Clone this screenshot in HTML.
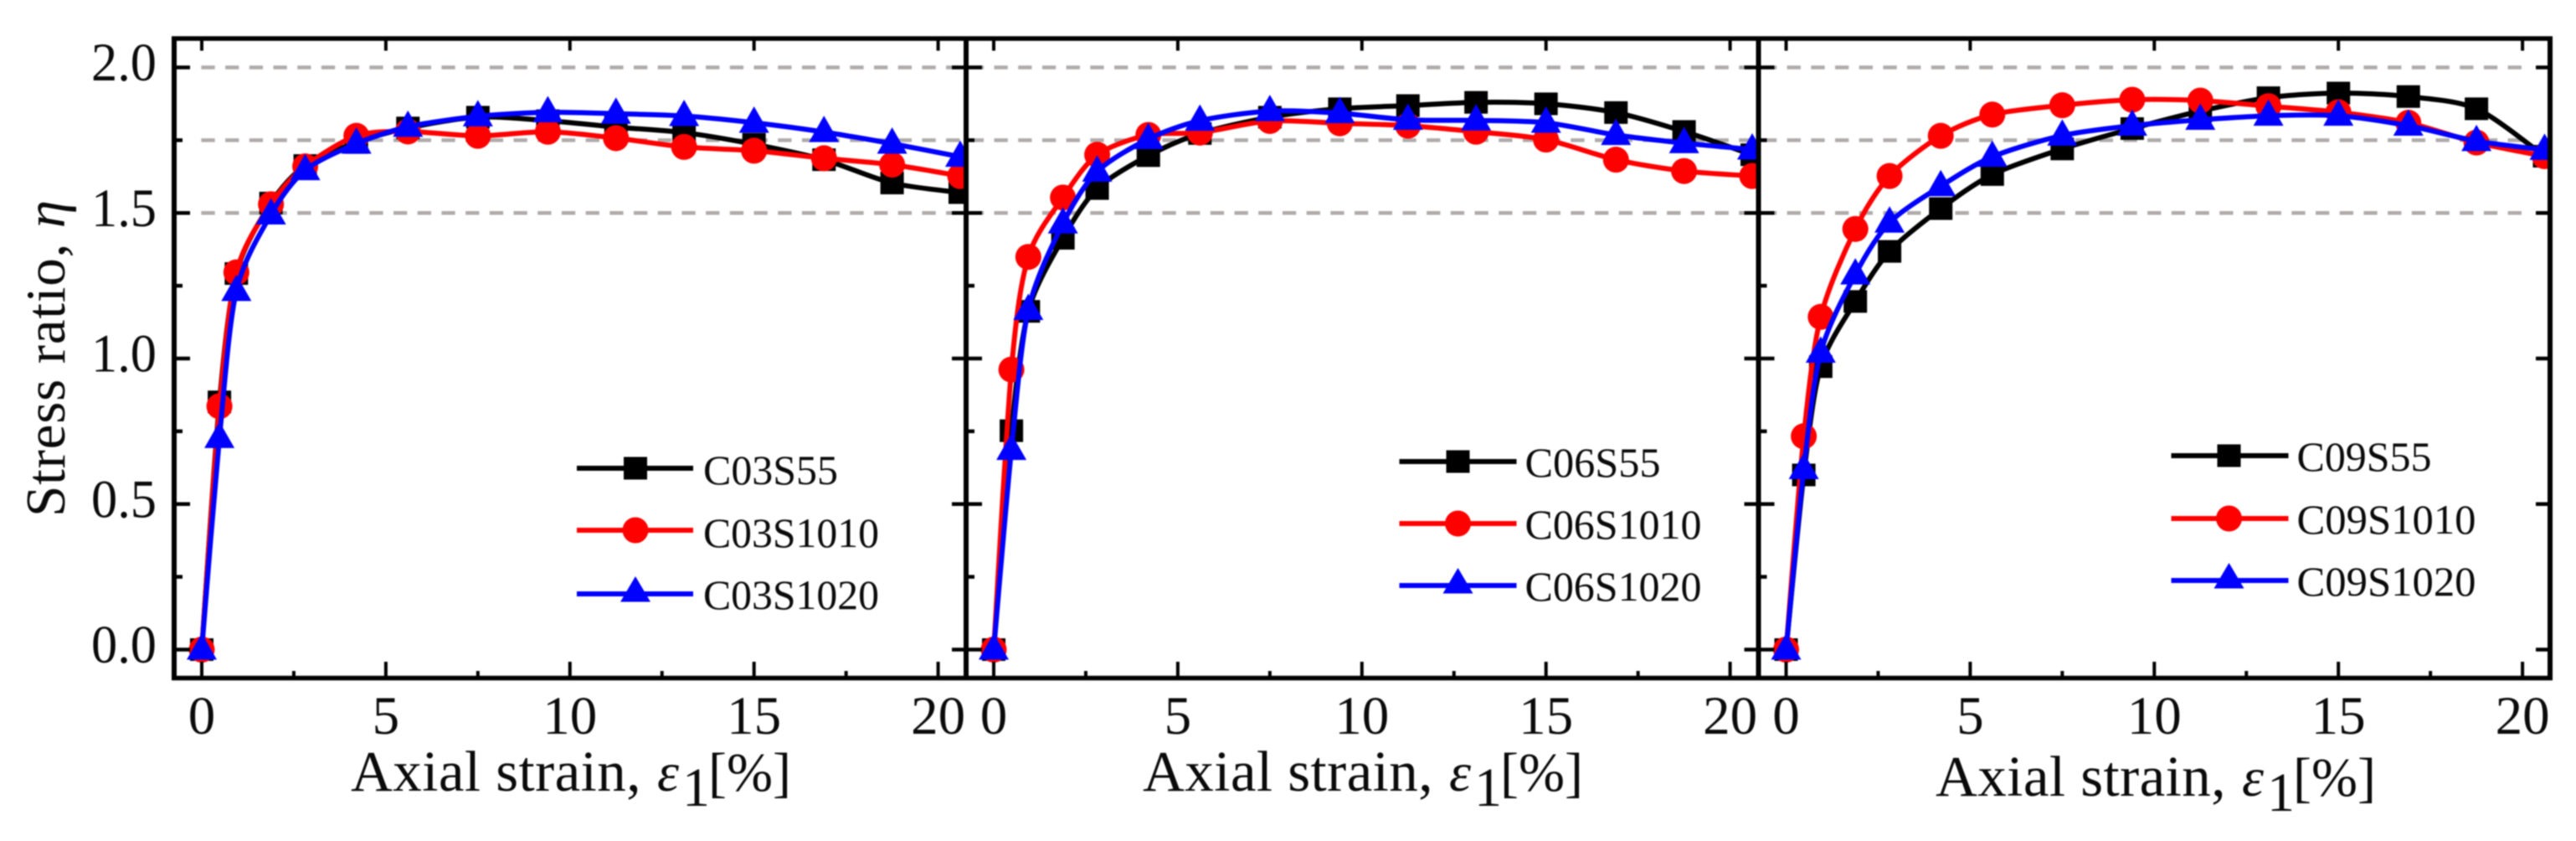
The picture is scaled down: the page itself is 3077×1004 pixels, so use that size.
<!DOCTYPE html>
<html lang="en">
<head>
<meta charset="utf-8">
<title>Stress ratio versus axial strain</title>
<style>
  html, body { margin: 0; padding: 0; background: #fff; }
  svg { display: block; filter: blur(0.7px); }
  text { font-family: "Liberation Serif", serif; fill: #0a0a0a; }
  .legend-label { font-size: 50px; }
  .x-title { font-size: 66px; }
  .x-title .words { font-size: 69px; letter-spacing: 0.45px; }
</style>
</head>
<body>
<svg id="chart" xmlns="http://www.w3.org/2000/svg" width="3077" height="1004" viewBox="0 0 3077 1004">
  <rect width="3077" height="1004" fill="#fff"/>
  <g id="grid"></g>
  <g id="series"></g>
  <g id="axes"></g>

  <text transform="translate(77,617) rotate(-90)" font-size="67" textLength="378" lengthAdjust="spacing">Stress ratio, <tspan font-style="italic">η</tspan></text>

  <text class="x-title" y="944"><tspan class="words" x="419">Axial strain,</tspan><tspan x="785" font-style="italic">ε</tspan><tspan x="815" dy="18">1</tspan><tspan x="846" dy="-18">[%]</tspan></text>
  <text class="x-title" y="944"><tspan class="words" x="1365">Axial strain,</tspan><tspan x="1731" font-style="italic">ε</tspan><tspan x="1761" dy="18">1</tspan><tspan x="1792" dy="-18">[%]</tspan></text>
  <text class="x-title" y="950"><tspan class="words" x="2312">Axial strain,</tspan><tspan x="2678" font-style="italic">ε</tspan><tspan x="2708" dy="18">1</tspan><tspan x="2739" dy="-18">[%]</tspan></text>

  <g>
    <g transform="translate(689,559)">
      <line x1="0" x2="139" stroke="#000" stroke-width="6"/><rect x="56" y="-13.5" width="28" height="27" fill="#000"/>
      <text class="legend-label" x="151" y="19" textLength="161" lengthAdjust="spacingAndGlyphs">C03S55</text>
    </g>
    <g transform="translate(689,633)">
      <line x1="0" x2="139" stroke="#f00" stroke-width="6"/><circle cx="70" cy="0" r="15.5" fill="#f00"/>
      <text class="legend-label" x="151" y="20" textLength="210" lengthAdjust="spacingAndGlyphs">C03S1010</text>
    </g>
    <g transform="translate(689,709)">
      <line x1="0" x2="139" stroke="#00f" stroke-width="6"/><polygon points="70,-21 88,9.5 52,9.5" fill="#00f"/>
      <text class="legend-label" x="151" y="18" textLength="210" lengthAdjust="spacingAndGlyphs">C03S1020</text>
    </g>
  </g>
  <g>
    <g transform="translate(1671.5,551)">
      <line x1="0" x2="140" stroke="#000" stroke-width="6"/><rect x="56" y="-13.5" width="28" height="27" fill="#000"/>
      <text class="legend-label" x="150" y="18" textLength="162" lengthAdjust="spacingAndGlyphs">C06S55</text>
    </g>
    <g transform="translate(1671.5,625)">
      <line x1="0" x2="140" stroke="#f00" stroke-width="6"/><circle cx="70" cy="0" r="15.5" fill="#f00"/>
      <text class="legend-label" x="150" y="18" textLength="211" lengthAdjust="spacingAndGlyphs">C06S1010</text>
    </g>
    <g transform="translate(1671.5,699)">
      <line x1="0" x2="140" stroke="#00f" stroke-width="6"/><polygon points="70,-21 88,9.5 52,9.5" fill="#00f"/>
      <text class="legend-label" x="150" y="18" textLength="211" lengthAdjust="spacingAndGlyphs">C06S1020</text>
    </g>
  </g>
  <g>
    <g transform="translate(2593.5,544)">
      <line x1="0" x2="140" stroke="#000" stroke-width="6"/><rect x="55" y="-13.5" width="28" height="27" fill="#000"/>
      <text class="legend-label" x="150" y="18" textLength="161" lengthAdjust="spacingAndGlyphs">C09S55</text>
    </g>
    <g transform="translate(2593.5,619)">
      <line x1="0" x2="140" stroke="#f00" stroke-width="6"/><circle cx="69" cy="0" r="15.5" fill="#f00"/>
      <text class="legend-label" x="150" y="18" textLength="214" lengthAdjust="spacingAndGlyphs">C09S1010</text>
    </g>
    <g transform="translate(2593.5,693)">
      <line x1="0" x2="140" stroke="#00f" stroke-width="6"/><polygon points="69,-21 87,9.5 51,9.5" fill="#00f"/>
      <text class="legend-label" x="150" y="18" textLength="214" lengthAdjust="spacingAndGlyphs">C09S1020</text>
    </g>
  </g>
</svg>
<script>
// ---- data ----
const strain = [0, 0.48, 0.94, 1.88, 2.81, 4.2, 5.6, 7.5, 9.4, 11.25, 13.1, 15, 16.9, 18.75, 20.6];

const c03s55   = [0, 0.851, 1.292, 1.534, 1.663, 1.742, 1.792, 1.829, 1.817, 1.795, 1.776, 1.736, 1.683, 1.603, 1.570];
const c03s1010 = [0, 0.836, 1.296, 1.530, 1.660, 1.765, 1.780, 1.765, 1.779, 1.757, 1.727, 1.714, 1.688, 1.666, 1.627];
const c03s1020 = [0, 0.727, 1.232, 1.495, 1.647, 1.738, 1.796, 1.832, 1.846, 1.841, 1.833, 1.810, 1.778, 1.738, 1.693];

const c06s55   = [0, 0.752, 1.162, 1.413, 1.584, 1.697, 1.773, 1.829, 1.858, 1.869, 1.880, 1.875, 1.845, 1.780, 1.700];
const c06s1010 = [0, 0.962, 1.349, 1.553, 1.700, 1.768, 1.776, 1.816, 1.808, 1.800, 1.779, 1.752, 1.683, 1.644, 1.627];
const c06s1020 = [0, 0.686, 1.167, 1.464, 1.642, 1.754, 1.817, 1.850, 1.843, 1.820, 1.818, 1.810, 1.768, 1.740, 1.718];

const c09s55   = [0, 0.600, 0.972, 1.196, 1.368, 1.515, 1.632, 1.720, 1.790, 1.850, 1.896, 1.912, 1.900, 1.858, 1.695];
const c09s1010 = [0, 0.733, 1.143, 1.445, 1.627, 1.765, 1.838, 1.870, 1.889, 1.886, 1.867, 1.846, 1.810, 1.742, 1.695];
const c09s1020 = [0, 0.620, 1.020, 1.289, 1.467, 1.592, 1.693, 1.766, 1.800, 1.820, 1.834, 1.834, 1.800, 1.747, 1.717];

const xTickValues = [0, 5, 10, 15, 20];
const xMinorTickValues = [2.5, 7.5, 12.5, 17.5];
const yTickValues = [0, 0.5, 1, 1.5, 2];
const yTickLabels = ['0.0', '0.5', '1.0', '1.5', '2.0'];
const yMinorTickValues = [0.25, 0.75, 1.25, 1.75];
const referenceLevels = [1.5, 1.75, 2];

// ---- layout ----
const NS = 'http://www.w3.org/2000/svg';
const panelLefts = [208, 1154, 2100.5];
const panelRights = [1154, 2100.5, 3046];
const panelNames = ['c03', 'c06', 'c09'];
const plotTop = 46, plotBottom = 809.5;
const xMin = -0.75, xUnit = 43.98;
const yZero = 775.5, yUnit = 347.5;

function xScale(p, v) { return panelLefts[p] + (v - xMin) * xUnit; }
function yScale(v) { return yZero - v * yUnit; }

function make(tag, attrs, parent) {
  const n = document.createElementNS(NS, tag);
  for (const k in attrs) n.setAttribute(k, attrs[k]);
  parent.appendChild(n);
  return n;
}

function smoothPath(pts) {
  const k = 0.14;
  let d = 'M' + pts[0][0].toFixed(1) + ' ' + pts[0][1].toFixed(1);
  for (let i = 0; i < pts.length - 1; i++) {
    const p0 = pts[Math.max(i - 1, 0)], p1 = pts[i], p2 = pts[i + 1], p3 = pts[Math.min(i + 2, pts.length - 1)];
    const c1x = p1[0] + (p2[0] - p0[0]) * k, c1y = p1[1] + (p2[1] - p0[1]) * k;
    const c2x = p2[0] - (p3[0] - p1[0]) * k, c2y = p2[1] - (p3[1] - p1[1]) * k;
    d += 'C' + c1x.toFixed(1) + ' ' + c1y.toFixed(1) + ' ' + c2x.toFixed(1) + ' ' + c2y.toFixed(1) + ' ' + p2[0].toFixed(1) + ' ' + p2[1].toFixed(1);
  }
  return d;
}

const svg = document.getElementById('chart');
const gridG = document.getElementById('grid');
const seriesG = document.getElementById('series');
const axesG = document.getElementById('axes');

// ---- reference lines ----
referenceLevels.forEach(function (level) {
  const line = make('line', {
    x1: 240.4, x2: 3014, y1: yScale(level), y2: yScale(level),
    stroke: '#b0abab', 'stroke-width': 4.5, 'stroke-dasharray': '16.3 12.4'
  }, gridG);
  
  
});

// ---- series ----
const panelSeries = [
  [c03s55, c03s1010, c03s1020],
  [c06s55, c06s1010, c06s1020],
  [c09s55, c09s1010, c09s1020]
];
const seriesColors = ['#000', '#f00', '#00f'];
const seriesKinds = ['square', 'circle', 'triangle'];
const seriesSuffix = ['s55', 's1010', 's1020'];

const defs = make('defs', {}, svg);
panelSeries.forEach(function (group, p) {
  const clip = make('clipPath', { id: 'clip-' + p }, defs);
  make('rect', { x: panelLefts[p], y: plotTop, width: panelRights[p] - panelLefts[p], height: plotBottom - plotTop }, clip);

  const panelG = make('g', { 'clip-path': 'url(#clip-' + p + ')' }, seriesG);
  
  

  group.forEach(function (values, s) {
    const color = seriesColors[s];
    const pts = values.map(function (v, i) { return [xScale(p, strain[i]), yScale(v)]; });
    const g = make('g', {}, panelG);
    
    

    const path = make('path', { d: smoothPath(pts), fill: 'none', stroke: color, 'stroke-width': 6, 'stroke-linejoin': 'round' }, g);
    
    

    pts.forEach(function (pt) {
      let m;
      if (seriesKinds[s] === 'square') {
        m = make('rect', { x: pt[0] - 14, y: pt[1] - 13.5, width: 28, height: 27, fill: color }, g);
      } else if (seriesKinds[s] === 'circle') {
        m = make('circle', { cx: pt[0], cy: pt[1], r: 15.5, fill: color }, g);
      } else {
        m = make('polygon', {
          points: pt[0] + ',' + (pt[1] - 19.5) + ' ' + (pt[0] + 18) + ',' + (pt[1] + 12) + ' ' + (pt[0] - 18) + ',' + (pt[1] + 12),
          fill: color
        }, g);
      }
      
      
    });
  });
});

// ---- axes ----
function stroke(x1, y1, x2, y2, w, name) {
  const l = make('line', { x1: x1, y1: y1, x2: x2, y2: y2, stroke: '#000', 'stroke-width': w }, axesG);
  
  
  return l;
}

panelLefts.forEach(function (left, p) {
  const right = panelRights[p];
  xTickValues.forEach(function (v) {
    const x = xScale(p, v);
    stroke(x, plotBottom, x, 790, 4, 'x-major-tick');
    stroke(x, plotTop, x, 60.5, 4, 'x-top-tick');
    const label = make('text', { x: x, y: 876, 'text-anchor': 'middle', 'font-size': 65 }, axesG);
    label.textContent = String(v);
    
    
  });
  xMinorTickValues.forEach(function (v) {
    const x = xScale(p, v);
    stroke(x, plotBottom, x, 801, 4, 'x-minor-tick');
  });
  yTickValues.forEach(function (v) {
    const y = yScale(v);
    stroke(left, y, left + 19, y, 4.5, 'y-major-tick');
    stroke(right, y, right - 17, y, 4.5, 'y-right-tick');
  });
  yMinorTickValues.forEach(function (v) {
    const y = yScale(v);
    stroke(left, y, left + 10, y, 4.5, 'y-minor-tick');
  });
  stroke(left, plotTop, left, plotBottom, 6, 'panel-divider-axis');
});
stroke(panelRights[2], plotTop, panelRights[2], plotBottom, 6, 'right-axis');
stroke(205, plotTop, 3049, plotTop, 5.5, 'top-axis');
stroke(205, plotBottom, 3049, plotBottom, 5.5, 'bottom-axis');

yTickValues.forEach(function (v, i) {
  const label = make('text', {
    x: 187, y: yScale(v) + 15.5, 'text-anchor': 'end', 'font-size': 65,
    textLength: 78, lengthAdjust: 'spacingAndGlyphs'
  }, axesG);
  label.textContent = yTickLabels[i];
  
  
});
</script>
</body>
</html>
